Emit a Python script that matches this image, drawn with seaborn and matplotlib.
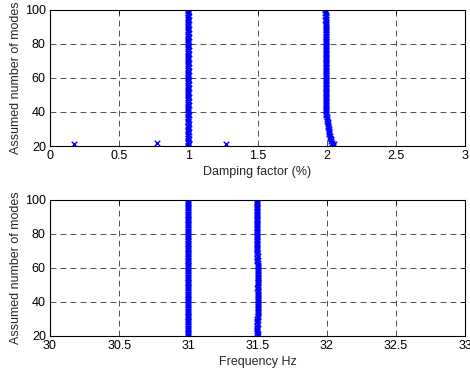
import numpy as np
import pandas as pd
import matplotlib
matplotlib.use('Agg')
import matplotlib.pyplot as plt
import seaborn as sns

# assumed number of modes (y axis), one estimate per model order
modes = [20, 21, 22, 23, 24, 25, 26, 27, 28, 29, 30, 31, 32, 33, 34, 35, 36, 37, 38, 39, 40,
         41, 42, 43, 44, 45, 46, 47, 48, 49, 50, 51, 52, 53, 54, 55, 56, 57, 58, 59, 60,
         61, 62, 63, 64, 65, 66, 67, 68, 69, 70, 71, 72, 73, 74, 75, 76, 77, 78, 79, 80,
         81, 82, 83, 84, 85, 86, 87, 88, 89, 90, 91, 92, 93, 94, 95, 96, 97, 98, 99, 100]

# damping factor (%) of the two identified modes
damp_1 = [1.000, 1.002, 0.998, 1.000, 1.003, 1.000, 0.998, 1.000, 1.002, 1.000, 1.000,
          0.998, 1.000, 1.002, 1.000, 1.000, 0.998, 1.000, 1.002, 1.000, 1.000,
          1.000, 0.998, 1.000, 1.002, 1.000, 1.000, 0.998, 1.000, 1.002, 1.000,
          1.000, 0.998, 1.000, 1.002, 1.000, 1.000, 0.998, 1.000, 1.002, 1.000,
          1.000, 0.998, 1.000, 1.002, 1.000, 1.000, 0.998, 1.000, 1.002, 1.000,
          1.000, 0.998, 1.000, 1.002, 1.000, 1.000, 0.998, 1.000, 1.002, 1.000,
          1.000, 0.998, 1.000, 1.002, 1.000, 1.000, 0.998, 1.000, 1.002, 1.000,
          1.000, 0.998, 1.000, 1.002, 1.000, 1.000, 0.998, 1.000, 1.002, 1.000]
damp_2 = [2.045, 2.035, 2.040, 2.030, 2.030, 2.025, 2.025, 2.020, 2.020, 2.015, 2.015,
          2.012, 2.010, 2.010, 2.008, 2.005, 2.003, 2.000, 1.998, 1.996, 1.995,
          1.995, 1.997, 1.995, 1.996, 1.998, 1.997, 1.995, 1.996, 1.997, 1.998,
          1.996, 1.995, 1.997, 1.998, 1.996, 1.995, 1.996, 1.998, 1.997, 1.995,
          1.996, 1.997, 1.995, 1.994, 1.996, 1.997, 1.995, 1.994, 1.995, 1.996,
          1.995, 1.994, 1.993, 1.995, 1.996, 1.994, 1.993, 1.994, 1.995, 1.994,
          1.993, 1.994, 1.995, 1.993, 1.992, 1.994, 1.993, 1.992, 1.993, 1.994,
          1.992, 1.993, 1.992, 1.991, 1.992, 1.993, 1.992, 1.991, 1.992, 1.991]
# spurious modes at low model orders
spur_damp = [0.17, 0.77, 1.27, 2.055]
spur_modes = [21, 22, 21, 21]

# frequency (Hz) of the two identified modes
freq_1 = [31.000, 31.001, 30.999, 31.000, 31.001, 31.000, 30.999, 31.000, 31.001, 31.000, 31.000,
          30.999, 31.000, 31.001, 31.000, 31.000, 30.999, 31.000, 31.001, 31.000, 31.000,
          31.000, 30.999, 31.000, 31.001, 31.000, 31.000, 30.999, 31.000, 31.001, 31.000,
          31.000, 30.999, 31.000, 31.001, 31.000, 31.000, 30.999, 31.000, 31.001, 31.000,
          31.000, 30.999, 31.000, 31.001, 31.000, 31.000, 30.999, 31.000, 31.001, 31.000,
          31.000, 30.999, 31.000, 31.001, 31.000, 31.000, 30.999, 31.000, 31.001, 31.000,
          31.000, 30.999, 31.000, 31.001, 31.000, 31.000, 30.999, 31.000, 31.001, 31.000,
          31.000, 30.999, 31.000, 31.001, 31.000, 31.000, 30.999, 31.000, 31.001, 31.000]
freq_2 = [31.503, 31.502, 31.500, 31.499, 31.498, 31.499, 31.500, 31.501, 31.500, 31.499, 31.500,
          31.502, 31.503, 31.504, 31.503, 31.502, 31.501, 31.503, 31.504, 31.503, 31.502,
          31.503, 31.504, 31.505, 31.504, 31.503, 31.502, 31.501, 31.500, 31.501, 31.502,
          31.503, 31.504, 31.503, 31.502, 31.501, 31.502, 31.503, 31.504, 31.505, 31.504,
          31.503, 31.502, 31.501, 31.500, 31.499, 31.500, 31.501, 31.500, 31.499, 31.498,
          31.499, 31.500, 31.499, 31.498, 31.499, 31.500, 31.499, 31.498, 31.499, 31.500,
          31.499, 31.498, 31.499, 31.500, 31.499, 31.498, 31.499, 31.500, 31.499, 31.498,
          31.499, 31.500, 31.499, 31.498, 31.499, 31.500, 31.499, 31.498, 31.499, 31.500]

damp_df = pd.DataFrame({'x': damp_1 + damp_2 + spur_damp,
                        'y': modes + modes + spur_modes})
freq_df = pd.DataFrame({'x': freq_1 + freq_2, 'y': modes + modes})

sns.set_style('white')
plt.rcParams['font.family'] = ['Liberation Sans', 'DejaVu Sans']
plt.rcParams['font.size'] = 9

fig = plt.figure(figsize=(4.70, 3.73), dpi=100)
ax1 = fig.add_axes([50 / 470, 1 - 146 / 373, 415 / 470, 136 / 373])
ax2 = fig.add_axes([50 / 470, 1 - 336 / 373, 415 / 470, 136 / 373])

sns.scatterplot(data=damp_df, x='x', y='y', ax=ax1, marker='x', color='#0000ff',
                s=16, linewidth=1.0, legend=False)
sns.scatterplot(data=freq_df, x='x', y='y', ax=ax2, marker='x', color='#0000ff',
                s=16, linewidth=1.0, legend=False)

for ax, lo, hi, lab in [(ax1, 0, 3, 'Damping factor (%)'), (ax2, 30, 33, 'Frequency Hz')]:
    ax.set_xlim(lo, hi)
    ax.set_ylim(20, 100)
    ticks = np.arange(lo, hi + 0.01, 0.5)
    ax.set_xticks(ticks)
    ax.set_xticklabels(['%g' % v for v in ticks])
    ax.set_yticks([20, 40, 60, 80, 100])
    ax.set_xlabel(lab, labelpad=3)
    ax.set_ylabel('Assumed number of modes', labelpad=2)
    ax.grid(True, color='black', linestyle=(0, (7, 5)), linewidth=0.6, alpha=0.8)
    ax.tick_params(direction='in', length=3, width=0.6, top=True, right=True,
                   labelsize=9, pad=3, colors='black')
    for sp in ax.spines.values():
        sp.set_color('black')
        sp.set_linewidth(0.8)
    ax.set_axisbelow(True)

fig.savefig('out.png', dpi=100)
